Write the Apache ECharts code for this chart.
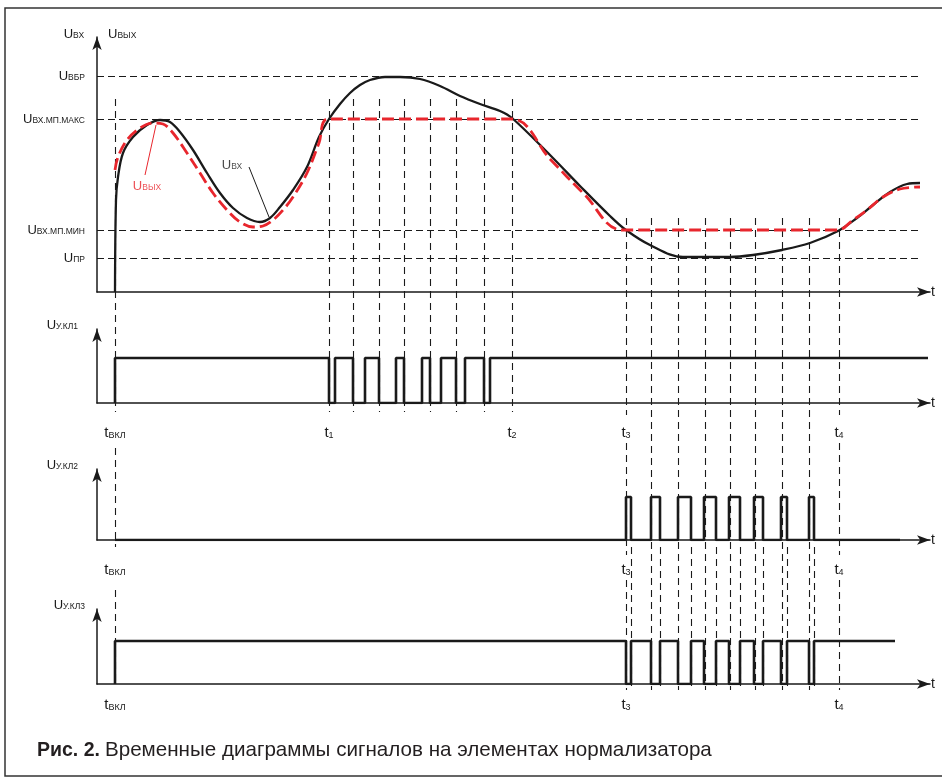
<!DOCTYPE html>
<html>
<head>
<meta charset="utf-8">
<script src="https://cdn.jsdelivr.net/npm/echarts@6/dist/echarts.min.js"></script>
<style>
  html, body { margin: 0; padding: 0; background: #fff; }
  #chart { width: 942px; height: 780px; }
</style>
</head>
<body>
<div id="chart"></div>
<script>
// time units: counted from the origin of the t axis
// level units: counted up from the baseline of each panel
const tOn = 18;                                      // t_вкл
const tMarks = [18, 232, 415, 529, 742];             // t_вкл, t1, t2, t3, t4
const tNames = ['ВКЛ', '1', '2', '3', '4'];
const tMarksLow = [18, 529, 742];
const gridT12 = [232, 256, 282, 307, 333, 359, 387, 415];      // t1 ... t2
const gridT34 = [529, 554, 581, 608, 633, 658, 685, 712, 742]; // t3 ... t4

const levelNames = ['ПР', 'ВХ.МП.МИН', 'ВХ.МП.МАКС', 'ВБР'];
const levelValues = [34, 62, 173, 216];

// U_вх (black) and U_вых (red dashed)
const uIn = [[18, 0], [19, 92], [21, 115], [26, 139], [36, 155], [50, 167], [63, 172], [73, 170],
  [83, 160], [96, 142], [110, 119], [123, 99], [136, 84], [150, 74], [163, 70], [173, 74],
  [183, 85], [196, 102], [210, 125], [222, 155], [232, 173], [243, 188], [253, 199], [263, 207],
  [273, 212], [288, 215], [303, 215], [323, 213], [343, 206], [363, 196], [383, 188], [403, 181],
  [415, 174], [453, 137], [483, 106], [513, 76], [529, 62], [553, 47], [586, 35], [633, 35],
  [656, 37], [685, 42], [713, 49], [741, 61], [760, 74], [776, 87], [793, 100], [810, 108],
  [823, 109]];
const uOut = [[18, 122], [21, 135], [30, 152], [43, 164], [56, 169], [66, 168], [76, 159],
  [90, 139], [103, 119], [116, 99], [130, 82], [143, 70], [156, 65], [166, 66], [176, 72],
  [186, 82], [196, 95], [210, 119], [222, 149], [231, 173], [415, 173], [453, 133], [488, 97],
  [525, 62], [741, 62], [756, 72], [770, 82], [786, 95], [803, 103], [823, 105]];

// key signals
const kl1Fall = [232, 256, 282, 307, 333, 359, 387];
const kl1Rise = [238, 268, 299, 325, 344, 368, 393];
const kl2Rise = [529, 554, 581, 607, 632, 657, 684, 712];
const kl2Fall = [534, 563, 594, 619, 643, 666, 690, 717];
const kl1High = 45, kl2High = 43, kl3High = 43;
const kl1End = 831, kl2End = 803, kl3End = 798;

const INK = '#1a1a1a';
const RED = '#e8262d';

function square(pulseOn, pulseOff, hi, base, end) {
  const pts = [[tOn, 0], [tOn, base]];
  pulseOn.forEach((t, i) => {
    pts.push([t, base], [t, hi - base], [pulseOff[i], hi - base], [pulseOff[i], base]);
  });
  pts.push([end, base]);
  return pts;
}

// guide lines are drawn in the units of the top panel (baseline at page y 292)
const base1 = 292;
function vSeg(t, yTop, yBot) {
  return { coords: [[t, base1 - yTop], [t, base1 - yBot]] };
}
const guides = [];
[[99, 412], [448, 547], [590, 685]].forEach(s => guides.push(vSeg(tOn, s[0], s[1])));
gridT12.forEach(t => guides.push(vSeg(t, 99, 412)));
[gridT34[0], gridT34[gridT34.length - 1]].forEach(t => {
  [[218, 415], [443, 555], [580, 690]].forEach(s => guides.push(vSeg(t, s[0], s[1])));
});
gridT34.slice(1, -1).forEach(t => guides.push(vSeg(t, 218, 690)));
kl2Fall.forEach(t => guides.push(vSeg(t, 547, 690)));

const levelLines = levelValues.map(v => ({ coords: [[0, v], [823, v]] }));

const sub = {
  u: { fontSize: 13, color: INK, verticalAlign: 'bottom' },
  s: { fontSize: 8.5, color: INK, verticalAlign: 'bottom' },
  ur: { fontSize: 13, color: RED, verticalAlign: 'bottom' },
  sr: { fontSize: 8.5, color: RED, verticalAlign: 'bottom' },
  t: { fontSize: 15, color: INK, verticalAlign: 'bottom' },
  ts: { fontSize: 9, color: INK, verticalAlign: 'bottom' },
  g: { width: 24 }
};

const panels = [
  { top: 37, height: 255, tGap: 19 },
  { top: 329, height: 74, tGap: 11 },
  { top: 469, height: 71, tGap: 14 },
  { top: 609, height: 75, tGap: 16 }
];
const yNames = [null, 'У.КЛ1', 'У.КЛ2', 'У.КЛ3'];
const yNamePad = [0, 19, 19, 12];

const tLabel = v => '{t|t}{ts|' + tNames[tMarks.indexOf(v)] + '}';

const chart = echarts.init(document.getElementById('chart'), null, { renderer: 'canvas' });
chart.setOption({
  animation: false,
  textStyle: { fontFamily: 'Liberation Sans, Arial, sans-serif' },
  title: {
    text: '{b|Рис. 2.} {n|Временные диаграммы сигналов на элементах нормализатора}',
    left: 32,
    top: 735,
    textStyle: {
      fontWeight: 'normal',
      rich: {
        b: { fontSize: 19.5, fontWeight: 'bold', color: '#231f20', fontFamily: 'Liberation Sans' },
        n: { fontSize: 20.6, fontWeight: 'normal', color: '#231f20', fontFamily: 'Liberation Sans' }
      }
    }
  },
  graphic: [{
    type: 'rect', silent: true, z: -10,
    shape: { x: 5, y: 8, width: 960, height: 768 },
    style: { fill: 'none', stroke: '#333', lineWidth: 1.5 }
  }],
  grid: panels.map(p => ({ left: 97, top: p.top, width: 833, height: p.height })),
  xAxis: panels.map((p, i) => ({
    type: 'value', gridIndex: i, min: 0, max: 833,
    axisLine: { lineStyle: { color: INK, width: 1.5 }, symbol: ['none', 'arrow'], symbolSize: [7, 13] },
    axisTick: { show: false },
    splitLine: { show: false },
    axisLabel: i === 0 ? { show: false } : {
      show: true,
      customValues: i === 1 ? tMarks : tMarksLow,
      margin: i === 3 ? 13 : 22,
      formatter: tLabel,
      rich: sub
    },
    name: 't', nameLocation: 'end', nameGap: 3,
    nameTextStyle: { fontSize: 14, color: INK, align: 'center', verticalAlign: 'middle', padding: [2 * p.tGap, 0, 0, 0] }
  })),
  yAxis: panels.map((p, i) => ({
    type: 'value', gridIndex: i, min: 0, max: p.height,
    axisLine: { lineStyle: { color: INK, width: 1.5 }, symbol: ['none', 'arrow'], symbolSize: [7, 13] },
    axisTick: { show: false },
    splitLine: { show: false },
    axisLabel: i === 0 ? {
      show: true,
      customValues: levelValues,
      margin: 12,
      formatter: v => '{u|U}{s|' + levelNames[levelValues.indexOf(v)] + '}',
      rich: sub
    } : { show: false },
    name: i === 0 ? '{u|U}{s|ВХ}{g|}{u|U}{s|ВЫХ}' : '{u|U}{s|' + yNames[i] + '}',
    nameLocation: 'end',
    nameGap: i === 0 ? 3 : 4,
    nameTextStyle: i === 0
      ? { align: 'center', verticalAlign: 'middle', padding: [0, 0, 0, 6], rich: sub }
      : { align: 'right', verticalAlign: 'middle', padding: [0, yNamePad[i], 0, 0], rich: sub }
  })),
  series: [
    {
      type: 'lines', coordinateSystem: 'cartesian2d', xAxisIndex: 0, yAxisIndex: 0,
      clip: false, silent: true, z: 1,
      lineStyle: { color: INK, width: 1.1, type: [7, 4], opacity: 1 },
      data: levelLines
    },
    {
      type: 'lines', coordinateSystem: 'cartesian2d', xAxisIndex: 0, yAxisIndex: 0,
      clip: false, silent: true, z: 1,
      lineStyle: { color: INK, width: 1.1, type: [7, 5], opacity: 1 },
      data: guides
    },
    {
      type: 'line', xAxisIndex: 0, yAxisIndex: 0, data: uIn,
      smooth: 0.35, symbol: 'none', z: 3,
      lineStyle: { color: INK, width: 2.3 }
    },
    {
      type: 'line', xAxisIndex: 0, yAxisIndex: 0, data: uOut,
      smooth: 0.35, symbol: 'none', z: 4,
      lineStyle: { color: RED, width: 2.8, type: [12, 5] }
    },
    {
      type: 'lines', coordinateSystem: 'cartesian2d', xAxisIndex: 0, yAxisIndex: 0,
      silent: true, z: 5,
      lineStyle: { color: INK, width: 1, opacity: 1 },
      data: [{ coords: [[152, 125], [172, 75]] }]
    },
    {
      type: 'lines', coordinateSystem: 'cartesian2d', xAxisIndex: 0, yAxisIndex: 0,
      silent: true, z: 5,
      lineStyle: { color: RED, width: 1, opacity: 1 },
      data: [{ coords: [[48, 117], [59, 167]] }]
    },
    {
      type: 'scatter', xAxisIndex: 0, yAxisIndex: 0, symbolSize: 0, silent: true, z: 6,
      data: [
        { value: [135, 127], label: { formatter: '{u|U}{s|ВХ}' } },
        { value: [50, 106], label: { formatter: '{ur|U}{sr|ВЫХ}' } }
      ],
      label: { show: true, position: 'inside', rich: sub }
    },
    {
      type: 'line', xAxisIndex: 1, yAxisIndex: 1, symbol: 'none', z: 3,
      lineStyle: { color: INK, width: 2.6 },
      data: square(kl1Fall, kl1Rise, kl1High, kl1High, kl1End)
    },
    {
      type: 'line', xAxisIndex: 2, yAxisIndex: 2, symbol: 'none', z: 3,
      lineStyle: { color: INK, width: 2.6 },
      data: square(kl2Rise, kl2Fall, kl2High, 0, kl2End)
    },
    {
      type: 'line', xAxisIndex: 3, yAxisIndex: 3, symbol: 'none', z: 3,
      lineStyle: { color: INK, width: 2.6 },
      data: square(kl2Rise, kl2Fall, kl3High, kl3High, kl3End)
    }
  ]
});
</script>
</body>
</html>
